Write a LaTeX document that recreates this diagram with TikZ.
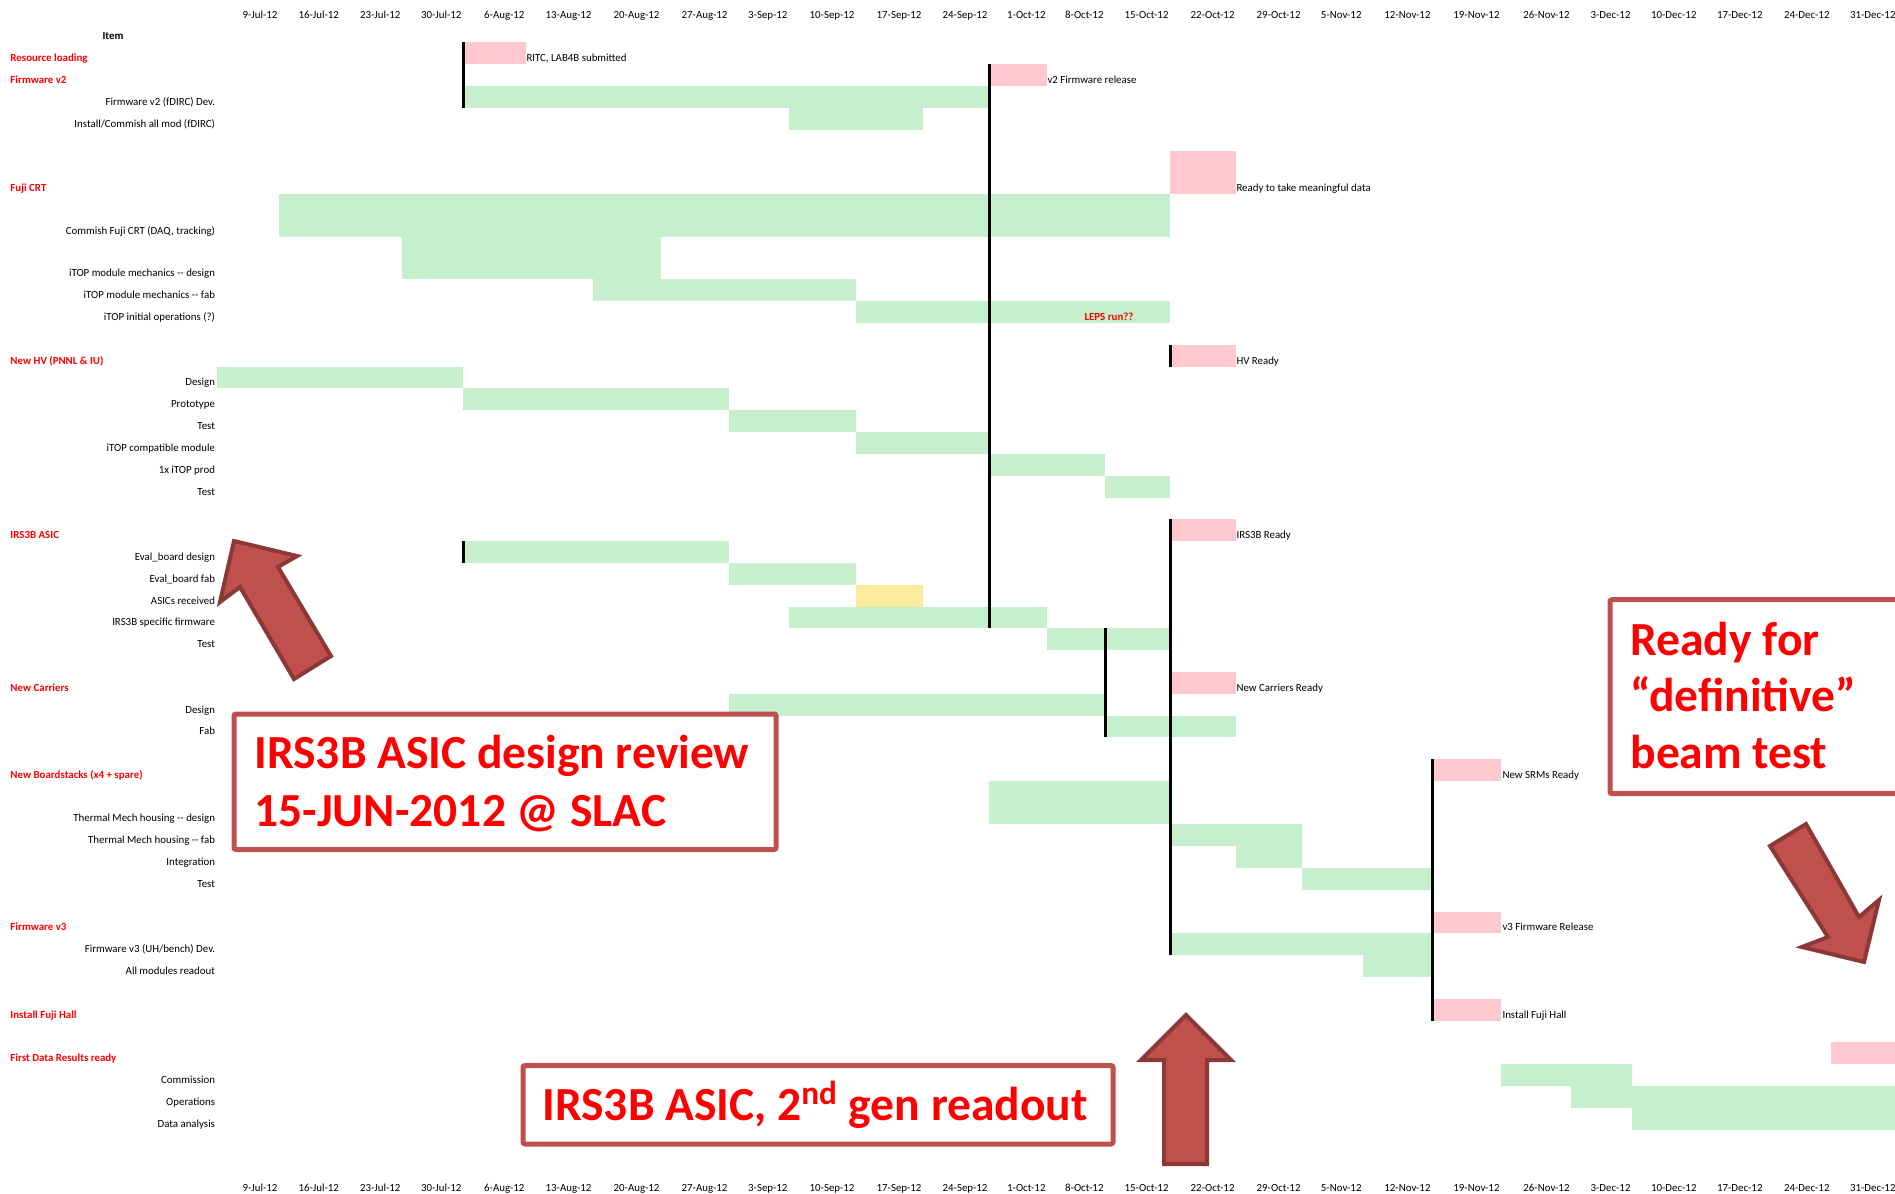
\documentclass[tikz,border=0pt]{standalone}
\usepackage{fontspec}
\setmainfont{Carlito}
\definecolor{gbarc}{HTML}{C6EFCE}
\definecolor{pbarc}{HTML}{FFC7CE}
\definecolor{ybarc}{HTML}{FFEB9C}
\definecolor{redtxt}{HTML}{FF0000}
\definecolor{boxred}{HTML}{C0504D}
\definecolor{arrdark}{HTML}{8C3836}
\tikzset{
  lbl/.style={font=\fontsize{4.35}{5}\selectfont, inner sep=0pt, text=black},
  sect/.style={font=\fontsize{4.35}{5}\selectfont\bfseries, inner sep=0pt, text=redtxt, anchor=base west},
  sub/.style={lbl, anchor=base east},
  mile/.style={lbl, anchor=base west},
  datel/.style={lbl, anchor=base east},
  gfill/.style={fill=gbarc},
  pfill/.style={fill=pbarc},
  yfill/.style={fill=ybarc},
  msline/.style={draw=black, line width=1.2pt},
  notebox/.style={draw=boxred, line width=2pt, fill=white, rounded corners=0.8pt},
  bigtxt/.style={font=\fontsize{19}{23}\selectfont\bfseries, text=redtxt, inner sep=0pt, anchor=base west},
  blockarrow/.style={fill=boxred, draw=arrdark, line width=1.6pt, line join=miter},
}
\begin{document}
\begin{tikzpicture}[x=0.4pt, y=-0.4pt]
\useasboundingbox (0,0) rectangle (1895,1194);
\clip (0,0) rectangle (1895,1194);
\fill[white] (0,0) rectangle (1895,1194);

% ---------- bars ----------
\fill[pfill] (463,42) rectangle (526,64);
\fill[pfill] (989,64) rectangle (1047,86);
\fill[gfill] (463,86) rectangle (989,108);
\fill[gfill] (789,108) rectangle (923,130);
\fill[pfill] (1170,151) rectangle (1236,194);
\fill[gfill] (279,194) rectangle (1170,237);
\fill[gfill] (402,237) rectangle (661,279);
\fill[gfill] (593,279) rectangle (856,301);
\fill[gfill] (856,301) rectangle (1170,323);
\fill[pfill] (1170,345) rectangle (1236,367);
\fill[gfill] (217,367) rectangle (463,388);
\fill[gfill] (463,388) rectangle (729,410);
\fill[gfill] (729,410) rectangle (856,432);
\fill[gfill] (856,432) rectangle (989,454);
\fill[gfill] (989,454) rectangle (1105,476);
\fill[gfill] (1105,476) rectangle (1170,498);
\fill[pfill] (1170,519) rectangle (1236,541);
\fill[gfill] (463,541) rectangle (729,563);
\fill[gfill] (729,563) rectangle (856,585);
\fill[yfill] (856,585) rectangle (923,607);
\fill[gfill] (789,607) rectangle (1047,628);
\fill[gfill] (1047,628) rectangle (1170,650);
\fill[pfill] (1170,672) rectangle (1236,694);
\fill[gfill] (729,694) rectangle (1105,716);
\fill[gfill] (1105,716) rectangle (1236,737);
\fill[pfill] (1432,759) rectangle (1501,781);
\fill[gfill] (989,781) rectangle (1170,824);
\fill[gfill] (1170,824) rectangle (1302,846);
\fill[gfill] (1236,846) rectangle (1302,868);
\fill[gfill] (1302,868) rectangle (1432,890);
\fill[pfill] (1432,912) rectangle (1501,933);
\fill[gfill] (1170,933) rectangle (1432,955);
\fill[gfill] (1363,955) rectangle (1432,977);
\fill[pfill] (1432,999) rectangle (1501,1021);
\fill[pfill] (1831,1042) rectangle (1897,1064);
\fill[gfill] (1501,1064) rectangle (1632,1086);
\fill[gfill] (1571,1086) rectangle (1897,1108);
\fill[gfill] (1632,1108) rectangle (1897,1130);

% ---------- milestone lines ----------
\draw[msline] (463.8,42) -- (463.8,108);
\draw[msline] (989.5,64) -- (989.5,628);
\draw[msline] (1170,345) -- (1170,367);
\draw[msline] (463.8,541) -- (463.8,563);
\draw[msline] (1105,628) -- (1105,737);
\draw[msline] (1170,519) -- (1170,955);
\draw[msline] (1432.5,759) -- (1432.5,1021);

% ---------- date headers ----------
\foreach \r/\d [count=\k] in {278/9-Jul-12, 339.5/16-Jul-12, 401/23-Jul-12, 462/30-Jul-12,
  525/6-Aug-12, 592/13-Aug-12, 660/20-Aug-12, 728/27-Aug-12, 788/3-Sep-12,
  855/10-Sep-12, 922/17-Sep-12, 988/24-Sep-12, 1046/1-Oct-12, 1104/8-Oct-12,
  1169/15-Oct-12, 1235/22-Oct-12, 1301/29-Oct-12, 1362/5-Nov-12, 1431/12-Nov-12,
  1500/19-Nov-12, 1570/26-Nov-12, 1631/3-Dec-12, 1697/10-Dec-12, 1763/17-Dec-12,
  1830/24-Dec-12, 1896/31-Dec-12} {
  \node[datel] (top\k) at (\r,18.5) {\d};
  \node[datel] (bot\k) at (\r,1191) {\d};
}

\node[lbl, font=\fontsize{4.35}{5}\selectfont\bfseries, anchor=base] (item) at (113,39) {Item};

% ---------- section labels ----------
\node[sect] (s1) at (10,61.5) {Resource loading};
\node[sect] (s2) at (10,83.5) {Firmware v2};
\node[sect] (s3) at (10,191.5) {Fuji CRT};
\node[sect] (s4) at (10,364.5) {New HV (PNNL \& IU)};
\node[sect] (s5) at (10,538.5) {IRS3B ASIC};
\node[sect] (s6) at (10,691.5) {New Carriers};
\node[sect] (s7) at (10,778.5) {New Boardstacks (x4 + spare)};
\node[sect] (s8) at (10,930.5) {Firmware v3};
\node[sect] (s9) at (10,1018.5) {Install Fuji Hall};
\node[sect] (s10) at (10,1061.5) {First Data Results ready};

% ---------- task labels ----------
\node[sub] (a1) at (215.5,105.5) {Firmware v2 (fDIRC) Dev.};
\node[sub] (a2) at (215.5,127.5) {Install/Commish all mod (fDIRC)};
\node[sub] (a3) at (215.5,234.5) {Commish Fuji CRT (DAQ, tracking)};
\node[sub] (a4) at (215.5,276.5) {iTOP module mechanics {-}{-} design};
\node[sub] (a5) at (215.5,298.5) {iTOP module mechanics {-}{-} fab};
\node[sub] (a6) at (215.5,320.5) {iTOP initial operations (?)};
\node[sub] (a7) at (215.5,385.5) {Design};
\node[sub] (a8) at (215.5,407.5) {Prototype};
\node[sub] (a9) at (215.5,429.5) {Test};
\node[sub] (a10) at (215.5,451.5) {iTOP compatible module};
\node[sub] (a11) at (215.5,473.5) {1x iTOP prod};
\node[sub] (a12) at (215.5,495.5) {Test};
\node[sub] (a13) at (215.5,560.5) {Eval\_board design};
\node[sub] (a14) at (215.5,582.5) {Eval\_board fab};
\node[sub] (a15) at (215.5,604.5) {ASICs received};
\node[sub] (a16) at (215.5,625.5) {IRS3B specific firmware};
\node[sub] (a17) at (215.5,647.5) {Test};
\node[sub] (a18) at (215.5,713.5) {Design};
\node[sub] (a19) at (215.5,734.5) {Fab};
\node[sub] (a20) at (215.5,821.5) {Thermal Mech housing {-}{-} design};
\node[sub] (a21) at (215.5,843.5) {Thermal Mech housing {-}{-} fab};
\node[sub] (a22) at (215.5,865.5) {Integration};
\node[sub] (a23) at (215.5,887.5) {Test};
\node[sub] (a24) at (215.5,952.5) {Firmware v3 (UH/bench) Dev.};
\node[sub] (a25) at (215.5,974.5) {All modules readout};
\node[sub] (a26) at (215.5,1083.5) {Commission};
\node[sub] (a27) at (215.5,1105.5) {Operations};
\node[sub] (a28) at (215.5,1127.5) {Data analysis};

% ---------- milestone labels ----------
\node[mile] (m1) at (526,61.5) {RITC, LAB4B submitted};
\node[mile] (m2) at (1047,83.5) {v2 Firmware release};
\node[mile] (m3) at (1236,191.5) {Ready to take meaningful data};
\node[mile] (m4) at (1236,364.5) {HV Ready};
\node[mile] (m5) at (1236,538.5) {IRS3B Ready};
\node[mile] (m6) at (1236,691.5) {New Carriers Ready};
\node[mile] (m7) at (1502,778.5) {New SRMs Ready};
\node[mile] (m8) at (1502,930.5) {v3 Firmware Release};
\node[mile] (m9) at (1502,1018.5) {Install Fuji Hall};
\node[sect] (leps) at (1084,320) {LEPS run??};

% ---------- annotation boxes ----------
\draw[notebox] (234,714) rectangle (776,849.5);
\node[bigtxt] (t1a) at (254,768.5) {IRS3B ASIC design review};
\node[bigtxt] (t1b) at (254,826) {15-JUN-2012 @ SLAC};

\draw[notebox] (523,1065.5) rectangle (1113,1144);
\node[bigtxt] (t2) at (542,1120) {IRS3B ASIC, 2\textsuperscript{nd} gen readout};

\draw[notebox] (1610,599.7) rectangle (1915,793.7);
\node[bigtxt] (t3a) at (1630,655) {Ready for};
\node[bigtxt] (t3b) at (1630,711) {“definitive”};
\node[bigtxt] (t3c) at (1630,768.7) {beam test};

% ---------- block arrows ----------
\filldraw[blockarrow] (234,541) -- (297,556) -- (278,567) -- (331,656) -- (294,679) -- (240,587) -- (220,602) -- cycle;
\filldraw[blockarrow] (1186,1015) -- (1231,1060) -- (1207,1060) -- (1207,1164) -- (1164,1164) -- (1164,1060) -- (1141,1060) -- cycle;
\filldraw[blockarrow] (1806,824) -- (1859,917) -- (1879,900) -- (1864,962) -- (1802,947) -- (1828,937) -- (1770,846) -- cycle;
\end{tikzpicture}
\end{document}
